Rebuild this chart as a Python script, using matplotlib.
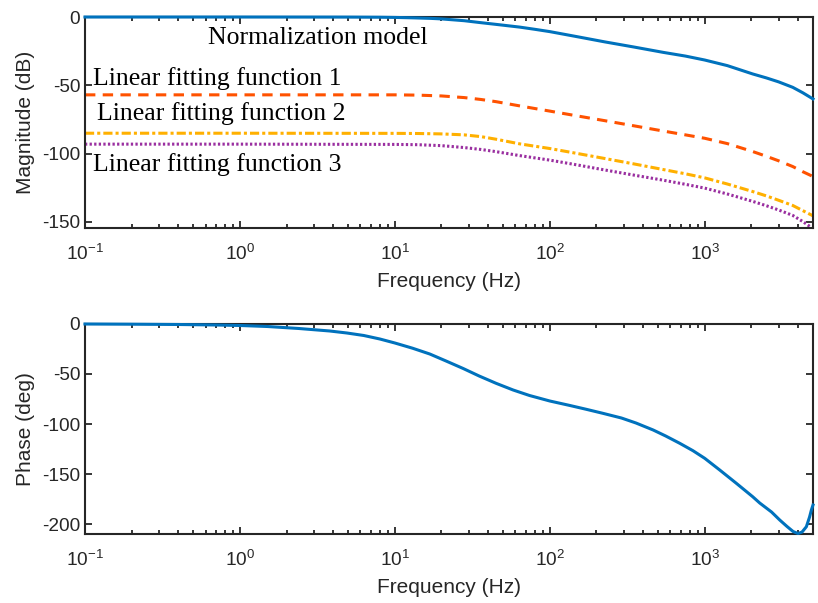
import matplotlib
matplotlib.use("Agg")
import matplotlib.pyplot as plt
from matplotlib.ticker import FixedLocator, FixedFormatter, LogLocator, NullFormatter

plt.rcParams["font.family"] = ["Liberation Sans", "DejaVu Sans"]
plt.rcParams["axes.unicode_minus"] = False
plt.rcParams["mathtext.fontset"] = "custom"
plt.rcParams["mathtext.rm"] = "Liberation Sans"

# Bode magnitude (dB) of the normalization model
freq_norm = [0.1, 1, 5, 8, 10, 13, 17, 20, 28, 35, 45, 64, 80, 100, 150, 226, 350, 540, 750,
             1000, 1400, 2040, 2500, 3000, 3700, 4300, 5000]
mag_norm = [0, 0, -0.05, -0.15, -0.3, -0.6, -1.0, -1.4, -2.7, -4.0, -5.4, -7.4, -9.0, -10.7, -14.4,
            -18.2, -22.0, -25.9, -28.6, -31.5, -35.6, -41.7, -44.6, -47.5, -51.5, -55.5, -60.0]

# Bode magnitude (dB) of the three linear fitting functions
freq_fit = [0.1, 1, 10, 14, 20, 28, 36, 45, 64, 100, 150, 226, 350, 540, 750, 1000, 1400,
            2040, 2500, 3000, 3700, 4300, 5000]
mag_fit1 = [-57.0, -57.0, -57.0, -57.2, -57.8, -59.0, -60.4, -62.0, -65.1, -68.9, -72.4, -75.9,
            -79.7, -83.5, -86.3, -88.8, -92.7, -98.5, -102.0, -105.3, -109.5, -113.3, -116.8]
mag_fit2 = [-85.1, -85.1, -85.2, -85.3, -85.6, -86.3, -87.6, -89.5, -92.9, -96.3, -99.9, -103.6,
            -107.6, -111.7, -114.8, -117.8, -122.3, -127.8, -131.0, -134.2, -138.0, -141.8, -145.6]
mag_fit3 = [-93.1, -93.1, -93.3, -93.5, -94.2, -95.6, -97.0, -98.6, -101.5, -104.8, -108.3, -112.0,
            -115.8, -119.5, -122.5, -125.3, -129.6, -135.0, -138.2, -141.3, -145.3, -149.8, -155.0]

# Bode phase (deg) of the normalization model
freq_phase = [0.1, 0.2, 0.4, 0.7, 1, 1.5, 2.4, 3.8, 4.9, 6.3, 8, 10, 13, 16.8, 21.4, 27.6, 35, 45,
              58, 74, 100, 135, 172, 220, 290, 360, 465, 560, 690, 840, 1000, 1250, 1600, 2040,
              2265, 2700, 3050, 3400, 3720, 4000, 4250, 4530, 4750, 4880, 5000]
phase = [0, -0.2, -0.5, -1.0, -1.5, -2.5, -4.5, -7.0, -9.0, -11.5, -15.0, -19.0, -24.2, -30.0,
         -37.0, -44.5, -52.0, -59.3, -66.0, -71.5, -77.0, -81.5, -85.3, -89.3, -94.0, -99.0, -106.0,
         -112.0, -119.3, -126.7, -134.3, -146.0, -159.3, -172.7, -179.0, -188.0, -196.0, -202.5,
         -207.5, -209.5, -208.0, -202.7, -193.0, -186.0, -181.0]

labels = ["Normalization model", "Linear fitting function 1",
          "Linear fitting function 2", "Linear fitting function 3"]
label_pos = [(0.62, -15.3), (0.113, -44.8), (0.12, -70.5), (0.113, -108.3)]

mag_ticks = [0, -50, -100, -150]
phase_ticks = [0, -50, -100, -150, -200]
x_ticks = [0.1, 1, 10, 100, 1000]
x_ticklabels = [r"$\mathregular{10^{-1}}$", r"$\mathregular{10^{0}}$", r"$\mathregular{10^{1}}$",
                r"$\mathregular{10^{2}}$", r"$\mathregular{10^{3}}$"]

c_blue = "#0072BD"
c_orange = "#FF5200"
c_yellow = "#FFB000"
c_purple = "#9A2FA0"
ink = "#262626"

fig = plt.figure(figsize=(8.18, 6.03), dpi=100)
ax1 = fig.add_axes([0.1039, 0.6219, 0.8900, 0.3499])
ax2 = fig.add_axes([0.1039, 0.1144, 0.8900, 0.3483])

lw = 2.2
ax1.plot(freq_norm, mag_norm, color=c_blue, lw=lw, clip_on=False, zorder=3)
ax1.plot(freq_fit, mag_fit1, color=c_orange, lw=lw, linestyle=(0, (3.4, 2.4)))
ax1.plot(freq_fit, mag_fit2, color=c_yellow, lw=lw, linestyle=(0, (3.0, 1.0, 1.0, 1.0)))
ax1.plot(freq_fit, mag_fit3, color=c_purple, lw=lw, linestyle=(0, (0.75, 0.75)))

for txt, (tx, ty) in zip(labels, label_pos):
    ax1.text(tx, ty, txt, family="Liberation Serif", fontsize=18.5, color="black",
             ha="left", va="center")

ax2.plot(freq_phase, phase, color=c_blue, lw=lw, clip_on=False, zorder=3)

for ax, yt, ylim, ylab in [(ax1, mag_ticks, (-154.5, 0), "Magnitude (dB)"),
                           (ax2, phase_ticks, (-210, 0), "Phase (deg)")]:
    ax.set_xscale("log")
    ax.set_xlim(0.1, 5000)
    ax.set_ylim(*ylim)
    ax.xaxis.set_major_locator(FixedLocator(x_ticks))
    ax.xaxis.set_major_formatter(FixedFormatter(x_ticklabels))
    ax.xaxis.set_minor_locator(LogLocator(base=10, subs=range(2, 10), numticks=20))
    ax.xaxis.set_minor_formatter(NullFormatter())
    ax.yaxis.set_major_locator(FixedLocator(yt))
    ax.set_yticklabels([str(v) for v in yt])
    ax.tick_params(which="both", direction="in", top=True, right=True,
                   colors=ink, labelcolor=ink, width=1.3, labelsize=13.7)
    ax.tick_params(which="major", length=5)
    ax.tick_params(which="minor", length=3)
    ax.tick_params(axis="x", which="major", pad=11.5)
    for s in ax.spines.values():
        s.set_color(ink)
        s.set_linewidth(1.5)
    ax.set_xlabel("Frequency (Hz)", fontsize=15, color=ink, labelpad=6)
    ax.set_ylabel(ylab, fontsize=15, color=ink, labelpad=5)

fig.savefig("out.png", dpi=100)
